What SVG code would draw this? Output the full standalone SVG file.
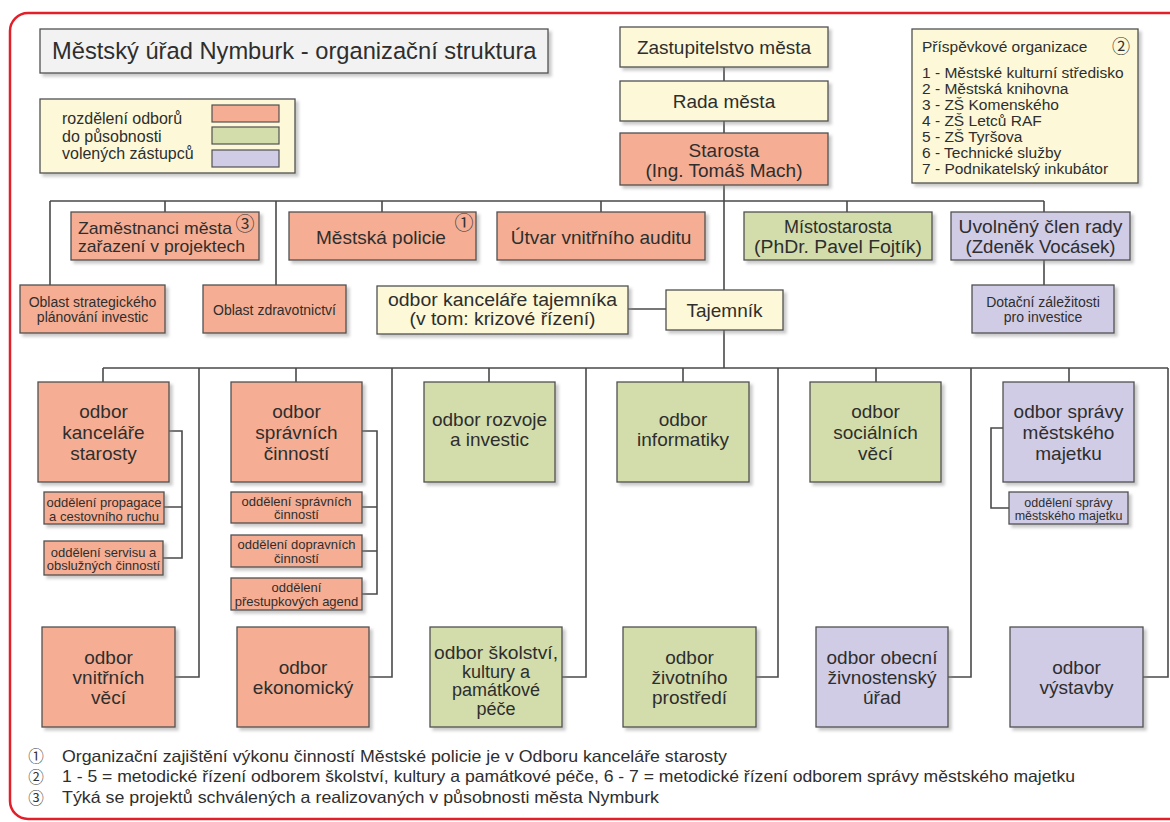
<svg xmlns="http://www.w3.org/2000/svg" width="1170" height="822" viewBox="0 0 1170 822">
<defs>
<filter id="sh" x="-10%" y="-10%" width="130%" height="140%">
<feDropShadow dx="3" dy="3" stdDeviation="1.5" flood-color="#888" flood-opacity="0.45"/>
</filter>
</defs>
<style>
.bx{stroke:#505050;stroke-width:1.3;filter:url(#sh)}
.s{fill:#f5ae94}.g{fill:#d3ddab}.v{fill:#d0cce5}.y{fill:#fdf9d8}.w{fill:#f2f2f2}
text{font-family:"Liberation Sans",Arial,sans-serif;fill:#2e2e2e}
.m{text-anchor:middle}
.f19{font-size:19px}.f18{font-size:18px}.f17{font-size:17px}.f16{font-size:16px}.f15{font-size:15.5px}.f14{font-size:14px}.f13{font-size:13px}.f12{font-size:12.5px}
.n{font-family:"Noto Sans CJK JP","DejaVu Sans",sans-serif;font-size:19px;text-anchor:middle;fill:#333}
.fn{font-size:16.5px}
.c{fill:none;stroke:#4a4a4a;stroke-width:1.6}
</style>
<rect width="1170" height="822" fill="#fff"/>
<rect x="10" y="13" width="1190" height="806" rx="18" fill="none" stroke="#e3202a" stroke-width="2.5"/>

<g id="connectors" class="c">
<path d="M724,67V81M724,121V133M724,185V290M724,330V368"/>
<path d="M50,201H1044M50,201V285M165,201V212M276,201V285M382,201V212M601,201V212M847,201V212M1044,201V212M1044,260V285"/>
<path d="M628,309H666"/>
<path d="M103,368H1168M103,368V382M296,368V382M489,368V382M683,368V382M876,368V382M1069,368V382"/>
<path d="M199,368V677H175M392,368V677H369M586,368V677H562M778,368V677H756M971,368V677H948M1168,368V677H1143"/>
<path d="M169,431H182V558H163M164,507H182"/>
<path d="M362,431H377V594H362M362,507H377M362,551H377"/>
<path d="M1003,428H991V508H1009"/>
</g>

<g id="title"><rect class="bx w" x="40" y="29" width="508" height="44"/><text x="52" y="59" style="font-size:23.7px">Městský úřad Nymburk - organizační struktura</text></g>

<g id="legend"><rect class="bx y" x="40" y="99" width="255" height="74"/>
<text class="f16" x="62" y="124">rozdělení odborů</text><text class="f16" x="62" y="142">do působnosti</text><text class="f16" x="62" y="159">volených zástupců</text>
<rect class="s" x="212" y="105" width="67" height="17" stroke="#505050" stroke-width="1.2"/>
<rect class="g" x="212" y="127" width="67" height="17" stroke="#505050" stroke-width="1.2"/>
<rect class="v" x="212" y="150" width="67" height="17" stroke="#505050" stroke-width="1.2"/></g>

<g id="zastupitelstvo"><rect class="bx y" x="620" y="27" width="208" height="40"/><text class="m f19" x="724" y="54">Zastupitelstvo města</text></g>
<g id="rada"><rect class="bx y" x="620" y="81" width="208" height="40"/><text class="m f19" x="724" y="108">Rada města</text></g>
<g id="starosta"><rect class="bx s" x="620" y="133" width="208" height="52"/><text class="m f19" x="724" y="157">Starosta</text><text class="m f19" x="724" y="177">(Ing. Tomáš Mach)</text></g>

<g id="prispevkove"><rect class="bx y" x="912" y="29" width="226" height="154"/>
<text class="f15" x="922" y="52">Příspěvkové organizace</text><text class="n" x="1121" y="53" style="font-size:18px">②</text>
<text class="f15" x="922" y="78">1 - Městské kulturní středisko</text>
<text class="f15" x="922" y="94">2 - Městská knihovna</text>
<text class="f15" x="922" y="110">3 - ZŠ Komenského</text>
<text class="f15" x="922" y="126">4 - ZŠ Letců RAF</text>
<text class="f15" x="922" y="142">5 - ZŠ Tyršova</text>
<text class="f15" x="922" y="158">6 - Technické služby</text>
<text class="f15" x="922" y="174">7 - Podnikatelský inkubátor</text></g>

<g id="zamestnanci"><rect class="bx s" x="71" y="212" width="188" height="48"/><text class="f17" x="78" y="234" textLength="154" lengthAdjust="spacingAndGlyphs">Zaměstnanci města</text><text class="n" x="245" y="231">③</text><text class="f17" x="78" y="252" textLength="167" lengthAdjust="spacingAndGlyphs">zařazení v projektech</text></g>
<g id="policie"><rect class="bx s" x="289" y="212" width="187" height="48"/><text class="m f19" x="381" y="244">Městská policie</text><text class="n" x="464" y="230">①</text></g>
<g id="audit"><rect class="bx s" x="497" y="212" width="208" height="48"/><text class="m f19" x="601" y="244">Útvar vnitřního auditu</text></g>
<g id="mistostarosta"><rect class="bx g" x="744" y="212" width="188" height="48"/><text class="m f18" x="838" y="233">Místostarosta</text><text class="m f18" x="838" y="253" textLength="168" lengthAdjust="spacingAndGlyphs">(PhDr. Pavel Fojtík)</text></g>
<g id="uvolneny"><rect class="bx v" x="951" y="212" width="179" height="48"/><text class="m f18" x="1040.5" y="233" textLength="164" lengthAdjust="spacingAndGlyphs">Uvolněný člen rady</text><text class="m f18" x="1040.5" y="253" textLength="150" lengthAdjust="spacingAndGlyphs">(Zdeněk Vocásek)</text></g>

<g id="oblast-strat"><rect class="bx s" x="20" y="285" width="145" height="48"/><text class="m f14" x="92.5" y="307">Oblast strategického</text><text class="m f14" x="92.5" y="322">plánování investic</text></g>
<g id="oblast-zdrav"><rect class="bx s" x="203" y="285" width="143" height="48"/><text class="m f14" x="274.5" y="315">Oblast zdravotnictví</text></g>
<g id="kancelar-tajemnika"><rect class="bx y" x="377" y="286" width="251" height="48"/><text class="m f18" x="502.5" y="306" textLength="229" lengthAdjust="spacingAndGlyphs">odbor kanceláře tajemníka</text><text class="m f18" x="502.5" y="325" textLength="186" lengthAdjust="spacingAndGlyphs">(v tom: krizové řízení)</text></g>
<g id="tajemnik"><rect class="bx y" x="666" y="290" width="117" height="40"/><text class="m f19" x="724.5" y="317">Tajemník</text></g>
<g id="dotacni"><rect class="bx v" x="972" y="285" width="142" height="48"/><text class="m f14" x="1043" y="307">Dotační záležitosti</text><text class="m f14" x="1043" y="322">pro investice</text></g>

<g id="kancelar-starosty"><rect class="bx s" x="38" y="382" width="131" height="100"/><text class="m f19" x="103.5" y="418">odbor</text><text class="m f19" x="103.5" y="439">kanceláře</text><text class="m f19" x="103.5" y="460">starosty</text></g>
<g id="spravnich"><rect class="bx s" x="231" y="382" width="131" height="100"/><text class="m f19" x="296.5" y="418">odbor</text><text class="m f19" x="296.5" y="439">správních</text><text class="m f19" x="296.5" y="460">činností</text></g>
<g id="rozvoje"><rect class="bx g" x="424" y="382" width="131" height="100"/><text class="m f19" x="489.5" y="426">odbor rozvoje</text><text class="m f19" x="489.5" y="446">a investic</text></g>
<g id="informatiky"><rect class="bx g" x="617" y="382" width="132" height="100"/><text class="m f19" x="683" y="426">odbor</text><text class="m f19" x="683" y="446">informatiky</text></g>
<g id="socialnich"><rect class="bx g" x="810" y="382" width="131" height="100"/><text class="m f19" x="875.5" y="418">odbor</text><text class="m f19" x="875.5" y="439">sociálních</text><text class="m f19" x="875.5" y="460">věcí</text></g>
<g id="spravy-majetku"><rect class="bx v" x="1003" y="382" width="131" height="100"/><text class="m f19" x="1068.5" y="418">odbor správy</text><text class="m f19" x="1068.5" y="439">městského</text><text class="m f19" x="1068.5" y="460">majetku</text></g>

<g id="odd-propagace"><rect class="bx s" x="44" y="492" width="120" height="32"/><text class="m f13" x="104" y="506.5">oddělení propagace</text><text class="m f13" x="104" y="520.5">a cestovního ruchu</text></g>
<g id="odd-servisu"><rect class="bx s" x="44" y="541" width="119" height="34"/><text class="m f13" x="103.5" y="556.5">oddělení servisu a</text><text class="m f13" x="103.5" y="570">obslužných činností</text></g>
<g id="odd-spravnich"><rect class="bx s" x="231" y="492" width="131" height="31"/><text class="m f13" x="296.5" y="505.5">oddělení správních</text><text class="m f13" x="296.5" y="519">činností</text></g>
<g id="odd-dopravnich"><rect class="bx s" x="231" y="535" width="131" height="32"/><text class="m f13" x="296.5" y="548.5">oddělení dopravních</text><text class="m f13" x="296.5" y="562.5">činností</text></g>
<g id="odd-prestupkovych"><rect class="bx s" x="231" y="578" width="131" height="32"/><text class="m f13" x="296.5" y="592">oddělení</text><text class="m f13" x="296.5" y="606">přestupkových agend</text></g>
<g id="odd-majetku"><rect class="bx v" x="1009" y="492" width="119" height="32"/><text class="m f12" x="1068.5" y="506.5">oddělení správy</text><text class="m f12" x="1068.5" y="519.5">městského majetku</text></g>

<g id="vnitrnich"><rect class="bx s" x="42" y="627" width="133" height="100"/><text class="m f19" x="108.5" y="664">odbor</text><text class="m f19" x="108.5" y="684">vnitřních</text><text class="m f19" x="108.5" y="704">věcí</text></g>
<g id="ekonomicky"><rect class="bx s" x="237" y="627" width="132" height="100"/><text class="m f19" x="303" y="674">odbor</text><text class="m f19" x="303" y="694">ekonomický</text></g>
<g id="skolstvi"><rect class="bx g" x="430" y="627" width="132" height="100"/><text class="m f18" x="496" y="659" textLength="124" lengthAdjust="spacingAndGlyphs">odbor školství,</text><text class="m f18" x="496" y="677.5">kultury a</text><text class="m f18" x="496" y="696">památkové</text><text class="m f18" x="496" y="714.5">péče</text></g>
<g id="zivotniho"><rect class="bx g" x="623" y="627" width="133" height="100"/><text class="m f19" x="689.5" y="664">odbor</text><text class="m f19" x="689.5" y="684">životního</text><text class="m f19" x="689.5" y="704">prostředí</text></g>
<g id="zivnostensky"><rect class="bx v" x="816" y="627" width="132" height="100"/><text class="m f19" x="882" y="664">odbor obecní</text><text class="m f19" x="882" y="684">živnostenský</text><text class="m f19" x="882" y="704">úřad</text></g>
<g id="vystavby"><rect class="bx v" x="1010" y="627" width="133" height="100"/><text class="m f19" x="1076.5" y="674">odbor</text><text class="m f19" x="1076.5" y="694">výstavby</text></g>

<g id="footnotes">
<text class="n" x="36" y="762" style="font-size:15.5px">①</text><text class="fn" x="62" y="762" textLength="665" lengthAdjust="spacingAndGlyphs">Organizační zajištění výkonu činností Městské policie je v Odboru kanceláře starosty</text>
<text class="n" x="36" y="782.5" style="font-size:15.5px">②</text><text class="fn" x="62" y="782" textLength="1013" lengthAdjust="spacingAndGlyphs">1 - 5 = metodické řízení odborem školství, kultury a památkové péče, 6 - 7 = metodické řízení odborem správy městského majetku</text>
<text class="n" x="36" y="803.5" style="font-size:15.5px">③</text><text class="fn" x="62" y="803" textLength="597" lengthAdjust="spacingAndGlyphs">Týká se projektů schválených a realizovaných v působnosti města Nymburk</text>
</g>
</svg>
